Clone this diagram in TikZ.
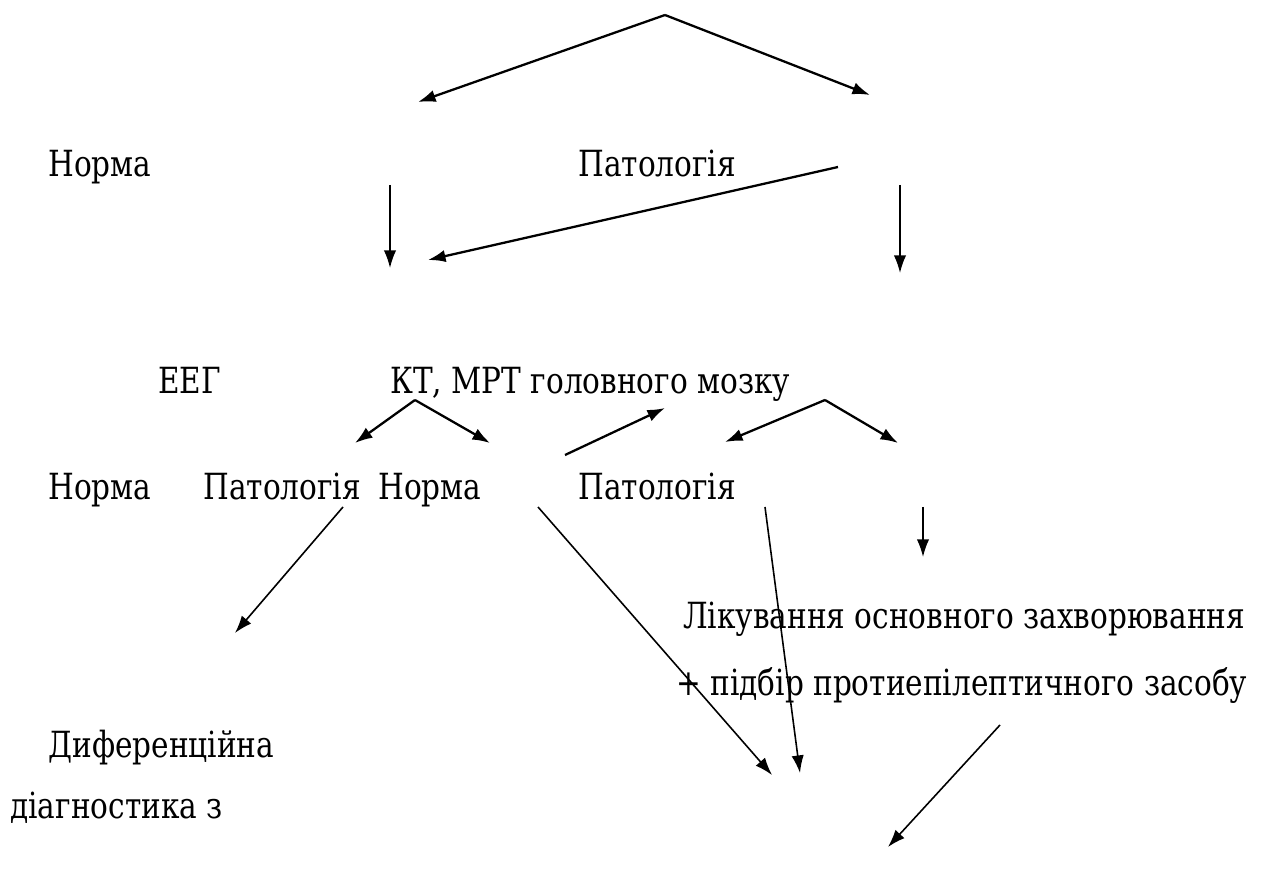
\documentclass[tikz,border=0pt]{standalone}
\usepackage{fontspec}
\setmainfont{DejaVu Serif}[FakeStretch=0.82]
\usepackage{tikz}
\usetikzlibrary{arrows.meta}
\usetikzlibrary{calc}

\begin{document}
\begin{tikzpicture}[>={Latex[length=10pt,width=7pt]},x=0.02cm,y=-0.02cm,
	every node/.style={anchor=base west,inner sep=0pt,font=\fontsize{20.5}{24}\selectfont},
	arr/.style={->,line width=1.3pt},
	varr/.style={->,line width=0.9pt}]
\useasboundingbox (0,0) rectangle (1265,881);

% texts
\node (n1) at (48,177) {Норма};
\node (p1) at (578,177) {Патологія};
\node (eeg) at (158,394) {ЕЕГ};
\node (kt) at (390,394) {КТ, МРТ головного мозку};
\node (n2) at (48,500) {Норма};
\node (p2) at (203,500) {Патологія};
\node (n3) at (378,500) {Норма};
\node (p3) at (578,500) {Патологія};
\node (lik) at (683,629) {Лікування основного захворювання};
\node (pid) at (676,696) {+ підбір протиепілептичного засобу};
\node (dif) at (48,757) {Диференційна};
\node (diag) at (10,818) {діагностика з};

% arrow ends
\coordinate (a0) at (665,15);
\coordinate (a1) at (418,102);
\coordinate (a2) at (870,95);
\coordinate (b1) at (390,185);
\coordinate (b2) at (390,268);
\coordinate (c1) at (838,167);
\coordinate (c2) at (428,260);
\coordinate (d1) at (900,185);
\coordinate (d2) at (900,273);
\coordinate (e0) at (415,400);
\coordinate (e1) at (355,443);
\coordinate (e2) at (490,443);
\coordinate (f1) at (565,455);
\coordinate (f2) at (665,408);
\coordinate (g0) at (825,400);
\coordinate (g1) at (725,442);
\coordinate (g2) at (898,443);
\coordinate (h1) at (343,507);
\coordinate (h2) at (235,633);
\coordinate (i1) at (538,507);
\coordinate (i2) at (772,775);
\coordinate (j1) at (765,507);
\coordinate (j2) at (800,773);
\coordinate (k1) at (923,507);
\coordinate (k2) at (923,557);
\coordinate (l1) at (1000,725);
\coordinate (l2) at (888,847);

\draw[arr] (a0) -- (a1);
\draw[arr] (a0) -- (a2);
\draw[varr] (b1) -- (b2);
\draw[arr] (c1) -- (c2);
\draw[varr] (d1) -- (d2);
\draw[arr] (e0) -- (e1);
\draw[arr] (e0) -- (e2);
\draw[arr] (f1) -- (f2);
\draw[arr] (g0) -- (g1);
\draw[arr] (g0) -- (g2);
\draw[varr] (h1) -- (h2);
\draw[varr] (i1) -- (i2);
\draw[varr] (j1) -- (j2);
\draw[varr] (k1) -- (k2);
\draw[varr] (l1) -- (l2);
\end{tikzpicture}
\end{document}
